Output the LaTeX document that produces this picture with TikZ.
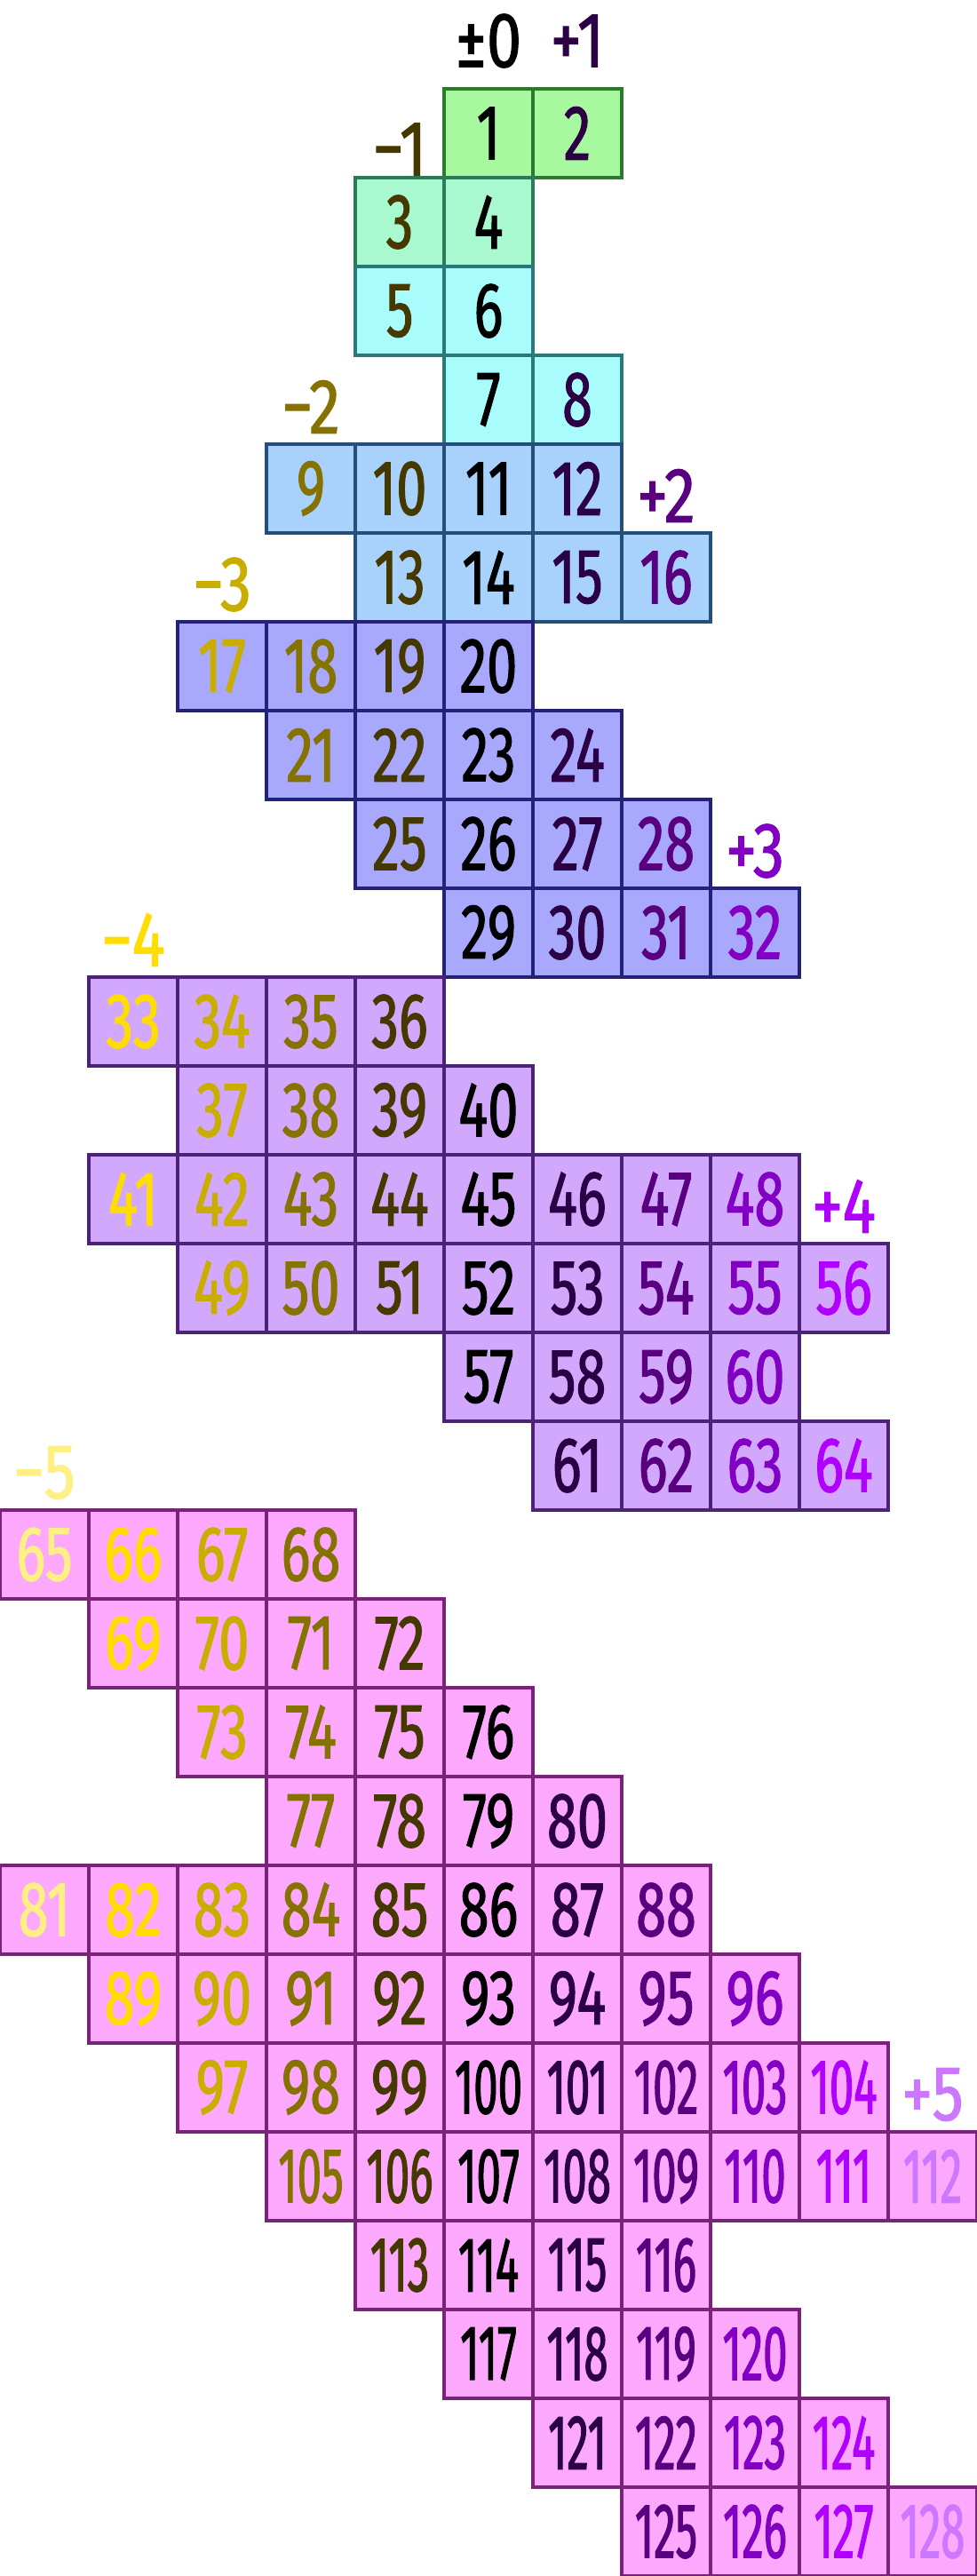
\documentclass[tikz,border=0pt]{standalone}
\usepackage{fontspec}
\usepackage{tikz}
\usetikzlibrary{positioning}
\newfontfamily\cellfont[FakeStretch=0.7,FakeBold=1.2]{Fira Sans}
\newfontfamily\cellfontn[FakeStretch=0.56,FakeBold=1.2]{Fira Sans}
\newfontfamily\markfont[FakeStretch=0.8,FakeBold=1.2]{Fira Sans}
\newcommand{\numfont}{\cellfont\fontsize{25}{25}\selectfont}
\newcommand{\numfontn}{\cellfontn\fontsize{25}{25}\selectfont}
\newcommand{\labfont}{\markfont\fontsize{25}{25}\selectfont}
% text colours, one per column
\definecolor{minusfive}{HTML}{FFEF85}
\definecolor{minusfour}{HTML}{FFDD00}
\definecolor{minusthree}{HTML}{C9AE00}
\definecolor{minustwo}{HTML}{867200}
\definecolor{minusone}{HTML}{453900}
\definecolor{zero}{HTML}{000000}
\definecolor{plusone}{HTML}{2C0044}
\definecolor{plustwo}{HTML}{58007F}
\definecolor{plusthree}{HTML}{8200C4}
\definecolor{plusfour}{HTML}{B000FF}
\definecolor{plusfive}{HTML}{CC77FF}
% cell colours
\definecolor{greenfill}{HTML}{A8F8A0}
\definecolor{greenline}{HTML}{2C7A2E}
\definecolor{mintfill}{HTML}{A8F8D0}
\definecolor{mintline}{HTML}{2C7A58}
\definecolor{cyanfill}{HTML}{A8FCFC}
\definecolor{cyanline}{HTML}{2A7878}
\definecolor{bluefill}{HTML}{A8D2FC}
\definecolor{blueline}{HTML}{22507A}
\definecolor{lavfill}{HTML}{A8A8FC}
\definecolor{lavline}{HTML}{222278}
\definecolor{purplefill}{HTML}{D2A8FC}
\definecolor{purpleline}{HTML}{4A2278}
\definecolor{pinkfill}{HTML}{FCA8FC}
\definecolor{pinkline}{HTML}{782278}
\tikzstyle{cell}=[rectangle,line width=1.1pt,minimum size=1cm,inner sep=0pt,font=\numfont]
\tikzstyle{greencell}=[cell,draw=greenline,fill=greenfill]
\tikzstyle{mintcell}=[cell,draw=mintline,fill=mintfill]
\tikzstyle{cyancell}=[cell,draw=cyanline,fill=cyanfill]
\tikzstyle{bluecell}=[cell,draw=blueline,fill=bluefill]
\tikzstyle{lavcell}=[cell,draw=lavline,fill=lavfill]
\tikzstyle{purplecell}=[cell,draw=purpleline,fill=purplefill]
\tikzstyle{pinkcell}=[cell,draw=pinkline,fill=pinkfill]
\tikzstyle{narrowtext}=[font=\numfontn]
\tikzstyle{colmark}=[inner sep=0pt,font=\labfont,yshift=-0.08cm]

\begin{document}
\begin{tikzpicture}[node distance=1cm]
            \useasboundingbox (0,0) rectangle (11,-29);

            % GREEN PART

            \node[greencell,text=zero] (n1) at (5.5,-1.5) {1};
            \node[greencell,text=plusone,right of=n1] (n2) {2};

            \node[mintcell,text=minusone] (n3) at (4.5,-2.5) {3};
            \node[mintcell,text=zero,right of=n3] (n4) {4};

            % CYAN PART

            \node[cyancell,text=minusone,below of=n3] (n5) {5};
            \node[cyancell,text=zero,right of=n5] (n6) {6};
            \node[cyancell,text=zero,below of=n6] (n7) {7};
            \node[cyancell,text=plusone,right of=n7] (n8) {8};

            % BLUE PART

            \node[bluecell,text=minustwo] (n9) at (3.5,-5.5) {9};
            \node[bluecell,text=minusone,right of=n9] (n10) {10};
            \node[bluecell,text=zero,right of=n10] (n11) {11};
            \node[bluecell,text=plusone,right of=n11] (n12) {12};
            \node[bluecell,text=minusone,below of=n10] (n13) {13};
            \node[bluecell,text=zero,right of=n13] (n14) {14};
            \node[bluecell,text=plusone,right of=n14] (n15) {15};
            \node[bluecell,text=plustwo,right of=n15] (n16) {16};

            % LAVENDER PART

            \node[lavcell,text=minusthree] (n17) at (2.5,-7.5) {17};
            \node[lavcell,text=minustwo,right of=n17] (n18) {18};
            \node[lavcell,text=minusone,right of=n18] (n19) {19};
            \node[lavcell,text=zero,right of=n19] (n20) {20};
            \node[lavcell,text=minustwo,below of=n18] (n21) {21};
            \node[lavcell,text=minusone,right of=n21] (n22) {22};
            \node[lavcell,text=zero,right of=n22] (n23) {23};
            \node[lavcell,text=plusone,right of=n23] (n24) {24};
            \node[lavcell,text=minusone,below of=n22] (n25) {25};
            \node[lavcell,text=zero,right of=n25] (n26) {26};
            \node[lavcell,text=plusone,right of=n26] (n27) {27};
            \node[lavcell,text=plustwo,right of=n27] (n28) {28};
            \node[lavcell,text=zero,below of=n26] (n29) {29};
            \node[lavcell,text=plusone,right of=n29] (n30) {30};
            \node[lavcell,text=plustwo,right of=n30] (n31) {31};
            \node[lavcell,text=plusthree,right of=n31] (n32) {32};

            % PURPLE PART

            \node[purplecell,text=minusfour] (n33) at (1.5,-11.5) {33};
            \node[purplecell,text=minusthree,right of=n33] (n34) {34};
            \node[purplecell,text=minustwo,right of=n34] (n35) {35};
            \node[purplecell,text=minusone,right of=n35] (n36) {36};
            \node[purplecell,text=minusthree,below of=n34] (n37) {37};
            \node[purplecell,text=minustwo,right of=n37] (n38) {38};
            \node[purplecell,text=minusone,right of=n38] (n39) {39};
            \node[purplecell,text=zero,right of=n39] (n40) {40};
            \node[purplecell,text=minusfour] (n41) at (1.5,-13.5) {41};
            \node[purplecell,text=minusthree,right of=n41] (n42) {42};
            \node[purplecell,text=minustwo,right of=n42] (n43) {43};
            \node[purplecell,text=minusone,right of=n43] (n44) {44};
            \node[purplecell,text=zero,right of=n44] (n45) {45};
            \node[purplecell,text=plusone,right of=n45] (n46) {46};
            \node[purplecell,text=plustwo,right of=n46] (n47) {47};
            \node[purplecell,text=plusthree,right of=n47] (n48) {48};
            \node[purplecell,text=minusthree,below of=n42] (n49) {49};
            \node[purplecell,text=minustwo,right of=n49] (n50) {50};
            \node[purplecell,text=minusone,right of=n50] (n51) {51};
            \node[purplecell,text=zero,right of=n51] (n52) {52};
            \node[purplecell,text=plusone,right of=n52] (n53) {53};
            \node[purplecell,text=plustwo,right of=n53] (n54) {54};
            \node[purplecell,text=plusthree,right of=n54] (n55) {55};
            \node[purplecell,text=plusfour,right of=n55] (n56) {56};
            \node[purplecell,text=zero,below of=n52] (n57) {57};
            \node[purplecell,text=plusone,right of=n57] (n58) {58};
            \node[purplecell,text=plustwo,right of=n58] (n59) {59};
            \node[purplecell,text=plusthree,right of=n59] (n60) {60};
            \node[purplecell,text=plusone,below of=n58] (n61) {61};
            \node[purplecell,text=plustwo,right of=n61] (n62) {62};
            \node[purplecell,text=plusthree,right of=n62] (n63) {63};
            \node[purplecell,text=plusfour,right of=n63] (n64) {64};

            % PINK PART

            \node[pinkcell,text=minusfive] (n65) at (0.5,-17.5) {65};
            \node[pinkcell,text=minusfour,right of=n65] (n66) {66};
            \node[pinkcell,text=minusthree,right of=n66] (n67) {67};
            \node[pinkcell,text=minustwo,right of=n67] (n68) {68};
            \node[pinkcell,text=minusfour,below of=n66] (n69) {69};
            \node[pinkcell,text=minusthree,right of=n69] (n70) {70};
            \node[pinkcell,text=minustwo,right of=n70] (n71) {71};
            \node[pinkcell,text=minusone,right of=n71] (n72) {72};
            \node[pinkcell,text=minusthree,below of=n70] (n73) {73};
            \node[pinkcell,text=minustwo,right of=n73] (n74) {74};
            \node[pinkcell,text=minusone,right of=n74] (n75) {75};
            \node[pinkcell,text=zero,right of=n75] (n76) {76};
            \node[pinkcell,text=minustwo,below of=n74] (n77) {77};
            \node[pinkcell,text=minusone,right of=n77] (n78) {78};
            \node[pinkcell,text=zero,right of=n78] (n79) {79};
            \node[pinkcell,text=plusone,right of=n79] (n80) {80};
            \node[pinkcell,text=minusfive] (n81) at (0.5,-21.5) {81};
            \node[pinkcell,text=minusfour,right of=n81] (n82) {82};
            \node[pinkcell,text=minusthree,right of=n82] (n83) {83};
            \node[pinkcell,text=minustwo,right of=n83] (n84) {84};
            \node[pinkcell,text=minusone,right of=n84] (n85) {85};
            \node[pinkcell,text=zero,right of=n85] (n86) {86};
            \node[pinkcell,text=plusone,right of=n86] (n87) {87};
            \node[pinkcell,text=plustwo,right of=n87] (n88) {88};
            \node[pinkcell,text=minusfour,below of=n82] (n89) {89};
            \node[pinkcell,text=minusthree,right of=n89] (n90) {90};
            \node[pinkcell,text=minustwo,right of=n90] (n91) {91};
            \node[pinkcell,text=minusone,right of=n91] (n92) {92};
            \node[pinkcell,text=zero,right of=n92] (n93) {93};
            \node[pinkcell,text=plusone,right of=n93] (n94) {94};
            \node[pinkcell,text=plustwo,right of=n94] (n95) {95};
            \node[pinkcell,text=plusthree,right of=n95] (n96) {96};
            \node[pinkcell,text=minusthree,below of=n90] (n97) {97};
            \node[pinkcell,text=minustwo,right of=n97] (n98) {98};
            \node[pinkcell,text=minusone,right of=n98] (n99) {99};
            \node[pinkcell,narrowtext,text=zero,right of=n99] (n100) {100};
            \node[pinkcell,narrowtext,text=plusone,right of=n100] (n101) {101};
            \node[pinkcell,narrowtext,text=plustwo,right of=n101] (n102) {102};
            \node[pinkcell,narrowtext,text=plusthree,right of=n102] (n103) {103};
            \node[pinkcell,narrowtext,text=plusfour,right of=n103] (n104) {104};
            \node[pinkcell,narrowtext,text=minustwo,below of=n98] (n105) {105};
            \node[pinkcell,narrowtext,text=minusone,right of=n105] (n106) {106};
            \node[pinkcell,narrowtext,text=zero,right of=n106] (n107) {107};
            \node[pinkcell,narrowtext,text=plusone,right of=n107] (n108) {108};
            \node[pinkcell,narrowtext,text=plustwo,right of=n108] (n109) {109};
            \node[pinkcell,narrowtext,text=plusthree,right of=n109] (n110) {110};
            \node[pinkcell,narrowtext,text=plusfour,right of=n110] (n111) {111};
            \node[pinkcell,narrowtext,text=plusfive,right of=n111] (n112) {112};
            \node[pinkcell,narrowtext,text=minusone,below of=n106] (n113) {113};
            \node[pinkcell,narrowtext,text=zero,right of=n113] (n114) {114};
            \node[pinkcell,narrowtext,text=plusone,right of=n114] (n115) {115};
            \node[pinkcell,narrowtext,text=plustwo,right of=n115] (n116) {116};
            \node[pinkcell,narrowtext,text=zero,below of=n114] (n117) {117};
            \node[pinkcell,narrowtext,text=plusone,right of=n117] (n118) {118};
            \node[pinkcell,narrowtext,text=plustwo,right of=n118] (n119) {119};
            \node[pinkcell,narrowtext,text=plusthree,right of=n119] (n120) {120};
            \node[pinkcell,narrowtext,text=plusone,below of=n118] (n121) {121};
            \node[pinkcell,narrowtext,text=plustwo,right of=n121] (n122) {122};
            \node[pinkcell,narrowtext,text=plusthree,right of=n122] (n123) {123};
            \node[pinkcell,narrowtext,text=plusfour,right of=n123] (n124) {124};
            \node[pinkcell,narrowtext,text=plustwo,below of=n122] (n125) {125};
            \node[pinkcell,narrowtext,text=plusthree,right of=n125] (n126) {126};
            \node[pinkcell,narrowtext,text=plusfour,right of=n126] (n127) {127};
            \node[pinkcell,narrowtext,text=plusfive,right of=n127] (n128) {128};

            % Column marks

            \node[colmark,text=zero,above of=n1,yshift=0.12cm] (m0) {±0};
            \node[colmark,text=plusone,above of=n2,yshift=0.12cm] (p1) {+1};
            \node[colmark,text=minusone,above of=n3,yshift=-0.1cm] (m1) {−1};
            \node[colmark,text=minustwo,above of=n9] (m2) {−2};
            \node[colmark,text=plustwo,above of=n16] (p2) {+2};
            \node[colmark,text=minusthree,above of=n17] (m3) {−3};
            \node[colmark,text=plusthree,above of=n32] (p3) {+3};
            \node[colmark,text=minusfour,above of=n33] (m4) {−4};
            \node[colmark,text=plusfour,above of=n56] (p4) {+4};
            \node[colmark,text=minusfive,above of=n65] (m5) {−5};
            \node[colmark,text=plusfive,above of=n112] (p5) {+5};

\end{tikzpicture}
\end{document}
